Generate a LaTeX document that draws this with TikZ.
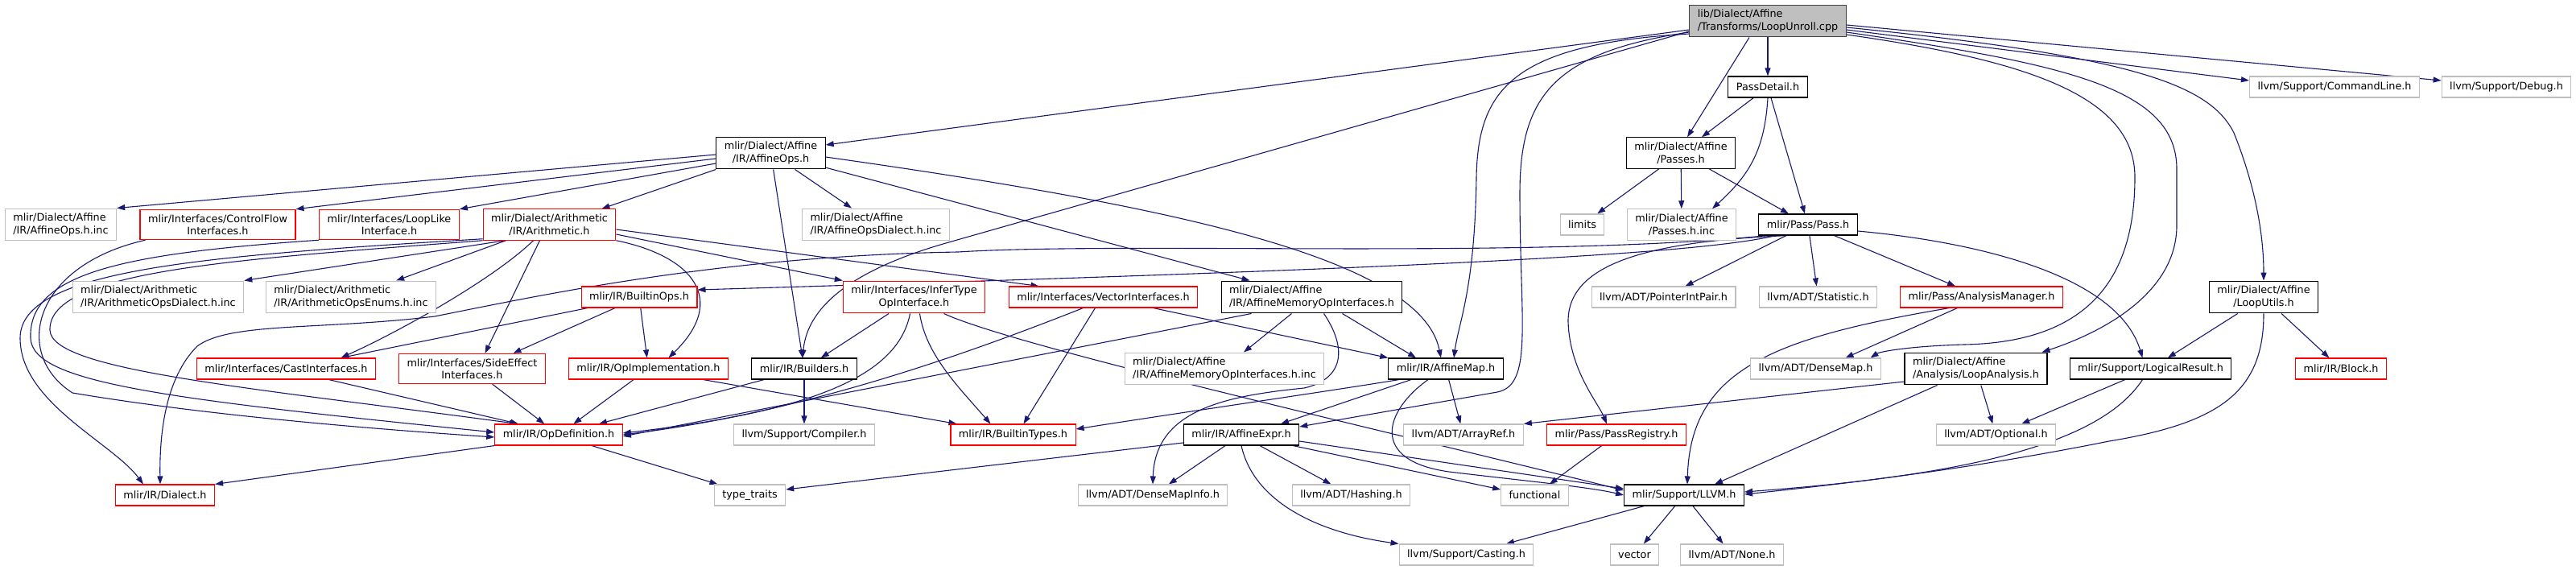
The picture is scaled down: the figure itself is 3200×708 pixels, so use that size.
\documentclass[tikz,border=0pt]{standalone}
\usepackage{fontspec}
\setmainfont{DejaVu Sans}
\usepackage{xcolor}
\usepackage{tikz}
\usetikzlibrary{arrows.meta,backgrounds}
\definecolor{edgeblue}{HTML}{191970}
\definecolor{boxgray}{HTML}{BFBFBF}
\definecolor{boxdark}{HTML}{404040}

\begin{document}
\begin{tikzpicture}[x=1pt,y=-1pt,font=\fontsize{12.8}{15.5}\selectfont,>={Triangle[length=10pt,width=7pt]},
    hdr/.style={draw=black, line width=1.1pt, fill=white, align=center, inner xsep=10pt, inner ysep=6pt, minimum height=26pt},
    ext/.style={hdr, draw=boxgray},
    trunc/.style={hdr, draw=red},
    cur/.style={hdr, draw=boxdark, fill=boxgray},
    dep/.style={->, draw=edgeblue, line width=1.1pt}]
  \useasboundingbox (0,0) rectangle (3200,708);
  % ---------- row 0 ----------
  \node[cur, align=left] (root) at (2196,26) {lib/Dialect/Affine\\/Transforms/LoopUnroll.cpp};
  % ---------- row 1 ----------
  \node[hdr] (pdetail) at (2196,108) {PassDetail.h};
  \node[ext] (cmdline) at (2900,108) {llvm/Support/CommandLine.h};
  \node[ext] (debug)   at (3113.5,108) {llvm/Support/Debug.h};
  % ---------- row 2 ----------
  \node[hdr] (aops)    at (957.5,190) {mlir/Dialect/Affine\\/IR/AffineOps.h};
  \node[hdr] (apasses) at (2088,190) {mlir/Dialect/Affine\\/Passes.h};
  % ---------- row 3 ----------
  \node[ext, align=left] (opsinc)  at (75.5,279) {mlir/Dialect/Affine\\/IR/AffineOps.h.inc};
  \node[trunc] (cfi)     at (270.5,279) {mlir/Interfaces/ControlFlow\\Interfaces.h};
  \node[trunc] (lli)     at (483.5,279) {mlir/Interfaces/LoopLike\\Interface.h};
  \node[trunc] (arith)   at (682.5,279) {mlir/Dialect/Arithmetic\\/IR/Arithmetic.h};
  \node[ext, align=left] (aopsdia) at (1088,279) {mlir/Dialect/Affine\\/IR/AffineOpsDialect.h.inc};
  \node[ext] (limits)    at (1965.5,279) {limits};
  \node[ext] (passinc)   at (2089,279) {mlir/Dialect/Affine\\/Passes.h.inc};
  \node[hdr] (pass)      at (2246,279) {mlir/Pass/Pass.h};
  % ---------- row 4 ----------
  \node[ext, align=left] (arithdia)  at (196.5,369) {mlir/Dialect/Arithmetic\\/IR/ArithmeticOpsDialect.h.inc};
  \node[ext, align=left] (arithenum) at (436,369) {mlir/Dialect/Arithmetic\\/IR/ArithmeticOpsEnums.h.inc};
  \node[trunc] (bops)    at (794,369) {mlir/IR/BuiltinOps.h};
  \node[trunc] (infer)   at (1135.5,369) {mlir/Interfaces/InferType\\OpInterface.h};
  \node[trunc] (vec)     at (1370.5,369) {mlir/Interfaces/VectorInterfaces.h};
  \node[hdr, align=left] (amoi) at (1629.5,369) {mlir/Dialect/Affine\\/IR/AffineMemoryOpInterfaces.h};
  \node[ext] (pip)       at (2066.5,369) {llvm/ADT/PointerIntPair.h};
  \node[ext] (stat)      at (2258.5,369) {llvm/ADT/Statistic.h};
  \node[trunc] (anman)   at (2461.5,369) {mlir/Pass/AnalysisManager.h};
  \node[hdr] (lutils)    at (2812,369) {mlir/Dialect/Affine\\/LoopUtils.h};
  % ---------- row 5 ----------
  \node[trunc] (cast)    at (355.5,458) {mlir/Interfaces/CastInterfaces.h};
  \node[trunc] (side)    at (586.5,458) {mlir/Interfaces/SideEffect\\Interfaces.h};
  \node[trunc] (opimpl)  at (805.5,458) {mlir/IR/OpImplementation.h};
  \node[hdr] (builders)  at (999,458) {mlir/IR/Builders.h};
  \node[ext, align=left] (amoiinc) at (1521,458) {mlir/Dialect/Affine\\/IR/AffineMemoryOpInterfaces.h.inc};
  \node[hdr] (amap)      at (1796,458) {mlir/IR/AffineMap.h};
  \node[ext] (dmap)      at (2255.5,458) {llvm/ADT/DenseMap.h};
  \node[hdr, align=left] (lanal) at (2454.5,458) {mlir/Dialect/Affine\\/Analysis/LoopAnalysis.h};
  \node[hdr] (lres)      at (2671.5,458) {mlir/Support/LogicalResult.h};
  \node[trunc] (block)   at (2908,458) {mlir/IR/Block.h};
  % ---------- row 6 ----------
  \node[trunc] (opdef)   at (694,540) {mlir/IR/OpDefinition.h};
  \node[ext] (compiler)  at (999,540) {llvm/Support/Compiler.h};
  \node[trunc] (btypes)  at (1258.5,540) {mlir/IR/BuiltinTypes.h};
  \node[hdr] (aexpr)     at (1542,540) {mlir/IR/AffineExpr.h};
  \node[ext] (aref)      at (1818,540) {llvm/ADT/ArrayRef.h};
  \node[trunc] (preg)    at (2008,540) {mlir/Pass/PassRegistry.h};
  \node[ext] (optional)  at (2479.5,540) {llvm/ADT/Optional.h};
  % ---------- row 7 ----------
  \node[trunc] (dialect) at (205,615) {mlir/IR/Dialect.h};
  \node[ext] (traits)    at (931.5,615) {type\_traits};
  \node[ext] (dmi)       at (1432,615) {llvm/ADT/DenseMapInfo.h};
  \node[ext] (hashing)   at (1678.5,615) {llvm/ADT/Hashing.h};
  \node[ext] (functional) at (1906.5,615) {functional};
  \node[hdr] (llvmh)     at (2092,615) {mlir/Support/LLVM.h};
  % ---------- row 8 ----------
  \node[ext] (casting)   at (1821.5,689) {llvm/Support/Casting.h};
  \node[ext] (vector)    at (2030.5,689) {vector};
  \node[ext] (none)      at (2151.5,689) {llvm/ADT/None.h};

  \begin{scope}[on background layer]
  \fill[white] (0,0) rectangle (3200,708);
  % ---------- includes of the file ----------
  \draw[dep] (root) -- (pdetail);
  \draw[dep] ([xshift=-23pt]root.south) -- ([xshift=8pt]apasses.north);
  \draw[dep] ([yshift=-11pt]root.west) -- ([yshift=10pt]aops.east);
  \draw[dep] ([yshift=-13pt]root.west) -- (1175,302) .. controls (1060,335) and (1003,380) .. ([xshift=-2pt]builders.north);
  \draw[dep] ([yshift=-16pt]root.west) .. controls (1880,55) and (1836,110) .. (1834,220) .. controls (1832,360) and (1812,400) .. ([xshift=10pt]amap.north);
  \draw[dep] ([yshift=-14pt]root.west) .. controls (1930,65) and (1888,120) .. (1888,240) .. controls (1888,400) and (1905,478) .. (1860,487) -- ([yshift=10pt]aexpr.east);
  \draw[dep] ([yshift=-5pt]root.east) -- ([yshift=8pt]debug.west);
  \draw[dep] ([yshift=-11pt]root.east) -- ([yshift=8pt]cmdline.west);
  \draw[dep] ([yshift=-8pt]root.east) .. controls (2650,70) and (2745,105) .. (2775,165) .. controls (2805,240) and (2812,300) .. (lutils.north);
  \draw[dep] ([yshift=-14pt]root.east) .. controls (2570,80) and (2704,110) .. (2704,210) -- (2704,280) .. controls (2704,360) and (2620,410) .. ([xshift=82pt]lanal.north);
  \draw[dep] ([yshift=-17pt]root.east) .. controls (2520,75) and (2652,120) .. (2652,220) .. controls (2652,340) and (2600,425) .. (2440,428) .. controls (2370,430) and (2335,437) .. ([xshift=68pt]dmap.north);
  % ---------- pass headers ----------
  \draw[dep] (pdetail) -- (apasses);
  \draw[dep] (pdetail.south) .. controls (2192,190) and (2170,220) .. ([xshift=38pt]passinc.north);
  \draw[dep] (pdetail) -- (pass);
  \draw[dep] (apasses) -- (limits);
  \draw[dep] (apasses) -- (passinc);
  \draw[dep] (apasses) -- (pass);
  \draw[dep] (pass) -- (pip);
  \draw[dep] (pass) -- (stat);
  \draw[dep] (pass) -- (anman);
  \draw[dep] ([xshift=-25pt]pass.south) .. controls (2040,300) and (1947,330) .. (1948,400) .. controls (1950,460) and (1985,500) .. ([xshift=-12pt]preg.north);
  \draw[dep] ([yshift=-8pt]pass.east) .. controls (2450,300) and (2630,340) .. ([xshift=-10pt]lres.north);
  \draw[dep] ([xshift=-40pt]pass.south) .. controls (2100,318) and (1700,335) .. ([yshift=9pt]bops.east);
  \draw[dep] ([xshift=-50pt]pass.south) .. controls (1900,322) and (1400,300) .. (1190,313) .. controls (900,318) and (680,365) .. (540,393) .. controls (400,410) and (285,400) .. (245,430) .. controls (205,470) and (198,540) .. ([xshift=-6pt]dialect.north);
  % ---------- affine ops ----------
  \draw[dep] ([yshift=-2pt]aops.west) -- (opsinc.north east);
  \draw[dep] ([yshift=-7pt]aops.west) -- (cfi.north east);
  \draw[dep] ([yshift=-13pt]aops.west) -- (lli.north east);
  \draw[dep] (aops.south west) -- ([xshift=-18pt]arith.north east);
  \draw[dep] (aops) -- (builders);
  \draw[dep] (aops) -- (aopsdia);
  \draw[dep] (aops) -- (amoi);
  \draw[dep] ([yshift=-5pt]aops.east) .. controls (1450,255) and (1765,320) .. ([xshift=-6pt]amap.north);
  % ---------- arithmetic ----------
  \draw[dep] ([xshift=-55pt]arith.south) -- (arithdia.north east);
  \draw[dep] (arith) -- (arithenum);
  \draw[dep] ([xshift=-20pt]arith.south) .. controls (615,345) and (500,410) .. ([xshift=68pt]cast.north);
  \draw[dep] ([xshift=-12pt]arith.south) -- ([xshift=16pt]side.north);
  \draw[dep] ([yshift=-6pt]arith.east) -- ([xshift=-80pt]vec.north);
  \draw[dep] ([yshift=-12pt]arith.east) -- (infer.north west);
  \draw[dep] (arith.south east) .. controls (860,318) and (905,372) .. ([xshift=25pt]opimpl.north);
  \draw[dep] ([yshift=2pt]arith.south west) .. controls (250,318) and (25,335) .. (25,420) .. controls (25,500) and (140,550) .. ([xshift=-27pt]dialect.north);
  \draw[dep] (arith.south west) .. controls (300,322) and (60,335) .. (62,410) .. controls (64,460) and (300,480) .. ([xshift=-51pt]opdef.north);
  \draw[dep] ([xshift=-90pt]cfi.south) .. controls (40,330) and (15,440) .. (90,488) .. controls (250,515) and (450,532) .. ([yshift=-3pt]opdef.west);
  \draw[dep] (lli.south west) .. controls (150,315) and (35,340) .. (38,420) .. controls (40,475) and (200,495) .. ([yshift=3pt]opdef.west);
  % ---------- interfaces ----------
  \draw[dep] ([xshift=-64pt]bops.south) -- ([xshift=68pt]cast.north);
  \draw[dep] ([xshift=-30pt]bops.south) -- ([xshift=51pt]side.north);
  \draw[dep] (bops) -- (opimpl);
  \draw[dep] ([xshift=53pt]cast.south) -- ([xshift=-50pt]opdef.north);
  \draw[dep] (side) -- (opdef);
  \draw[dep] (opimpl) -- (opdef);
  \draw[dep] ([xshift=68pt]opimpl.south) -- ([xshift=-70pt]btypes.north);
  \draw[dep] ([xshift=-50pt]builders.south) -- ([xshift=50pt]opdef.north);
  \draw[dep] (builders) -- (compiler);
  \draw[dep] (infer) -- (builders);
  \draw[dep] ([xshift=-5pt]infer.south) .. controls (1115,470) and (1000,512) .. ([yshift=2pt]opdef.east);
  \draw[dep] ([xshift=7pt]infer.south) .. controls (1150,440) and (1190,480) .. ([xshift=-28pt]btypes.north);
  \draw[dep] ([xshift=37pt]infer.south) .. controls (1260,430) and (1700,530) .. ([yshift=6pt]llvmh.west);
  \draw[dep] ([xshift=-25pt]vec.south) .. controls (1200,440) and (1000,512) .. (opdef.east);
  \draw[dep] ([xshift=-10pt]vec.south) -- ([xshift=13pt]btypes.north);
  \draw[dep] ([xshift=62pt]vec.south) -- (amap.north west);
  \draw[dep] ([xshift=-25pt]amoi.south) -- ([xshift=24pt]amoiinc.north);
  \draw[dep] ([xshift=-75pt]amoi.south) -- ([yshift=-2pt]opdef.east);
  \draw[dep] ([xshift=15pt]amoi.south) .. controls (1672,430) and (1672,470) .. (1620,482) .. controls (1520,492) and (1435,510) .. (dmi.north);
  \draw[dep] ([xshift=38pt]amoi.south) -- ([xshift=-37pt]amap.north);
  \draw[dep] (opdef.south west) -- (dialect.north east);
  \draw[dep] ([xshift=41pt]opdef.south) -- ([xshift=-40pt]traits.north);
  % ---------- affine map / expr ----------
  \draw[dep] ([xshift=-43pt]amap.south) -- ([xshift=49pt]aexpr.north);
  \draw[dep] (amap) -- (aref);
  \draw[dep] ([xshift=-22pt]amap.south) .. controls (1720,510) and (1700,572) .. (1800,586) .. controls (1900,598) and (1975,605) .. (llvmh.west);
  \draw[dep] ([xshift=-58pt]amap.south) .. controls (1650,486) and (1450,515) .. ([yshift=7pt]btypes.east);
  \draw[dep] ([yshift=-10pt]aexpr.west) -- ([yshift=7pt]traits.east);
  \draw[dep] (aexpr) -- (dmi);
  \draw[dep] (aexpr.south) .. controls (1558,625) and (1640,662) .. (casting.north west);
  \draw[dep] ([xshift=23pt]aexpr.south) -- ([xshift=-25pt]hashing.north);
  \draw[dep] ([xshift=-8pt]aexpr.south east) -- ([yshift=7pt]functional.west);
  \draw[dep] ([yshift=-8pt]aexpr.east) -- ([yshift=8pt]llvmh.west);
  % ---------- support ----------
  \draw[dep] (preg) -- (functional);
  \draw[dep] (llvmh) -- (casting);
  \draw[dep] (llvmh) -- (vector);
  \draw[dep] (llvmh) -- (none);
  \draw[dep] ([xshift=-30pt]anman.south) -- ([xshift=37pt]dmap.north);
  \draw[dep] ([xshift=-40pt]anman.south) .. controls (2200,420) and (2100,460) .. ([xshift=4pt]llvmh.north);
  \draw[dep] ([yshift=-16pt]lanal.west) -- (aref.north east);
  \draw[dep] ([xshift=-48pt]lanal.south) -- ([xshift=38pt]llvmh.north);
  \draw[dep] (lanal) -- (optional);
  \draw[dep] (lres) -- (optional);
  \draw[dep] ([xshift=-10pt]lres.south) .. controls (2610,550) and (2450,590) .. ([yshift=4pt]llvmh.east);
  \draw[dep] (lutils) -- (lres);
  \draw[dep] (lutils) -- (block);
  \draw[dep] (lutils.south) .. controls (2812,485) and (2760,525) .. (2620,548) .. controls (2450,582) and (2300,600) .. ([yshift=1pt]llvmh.east);
  \end{scope}
\end{tikzpicture}
\end{document}
